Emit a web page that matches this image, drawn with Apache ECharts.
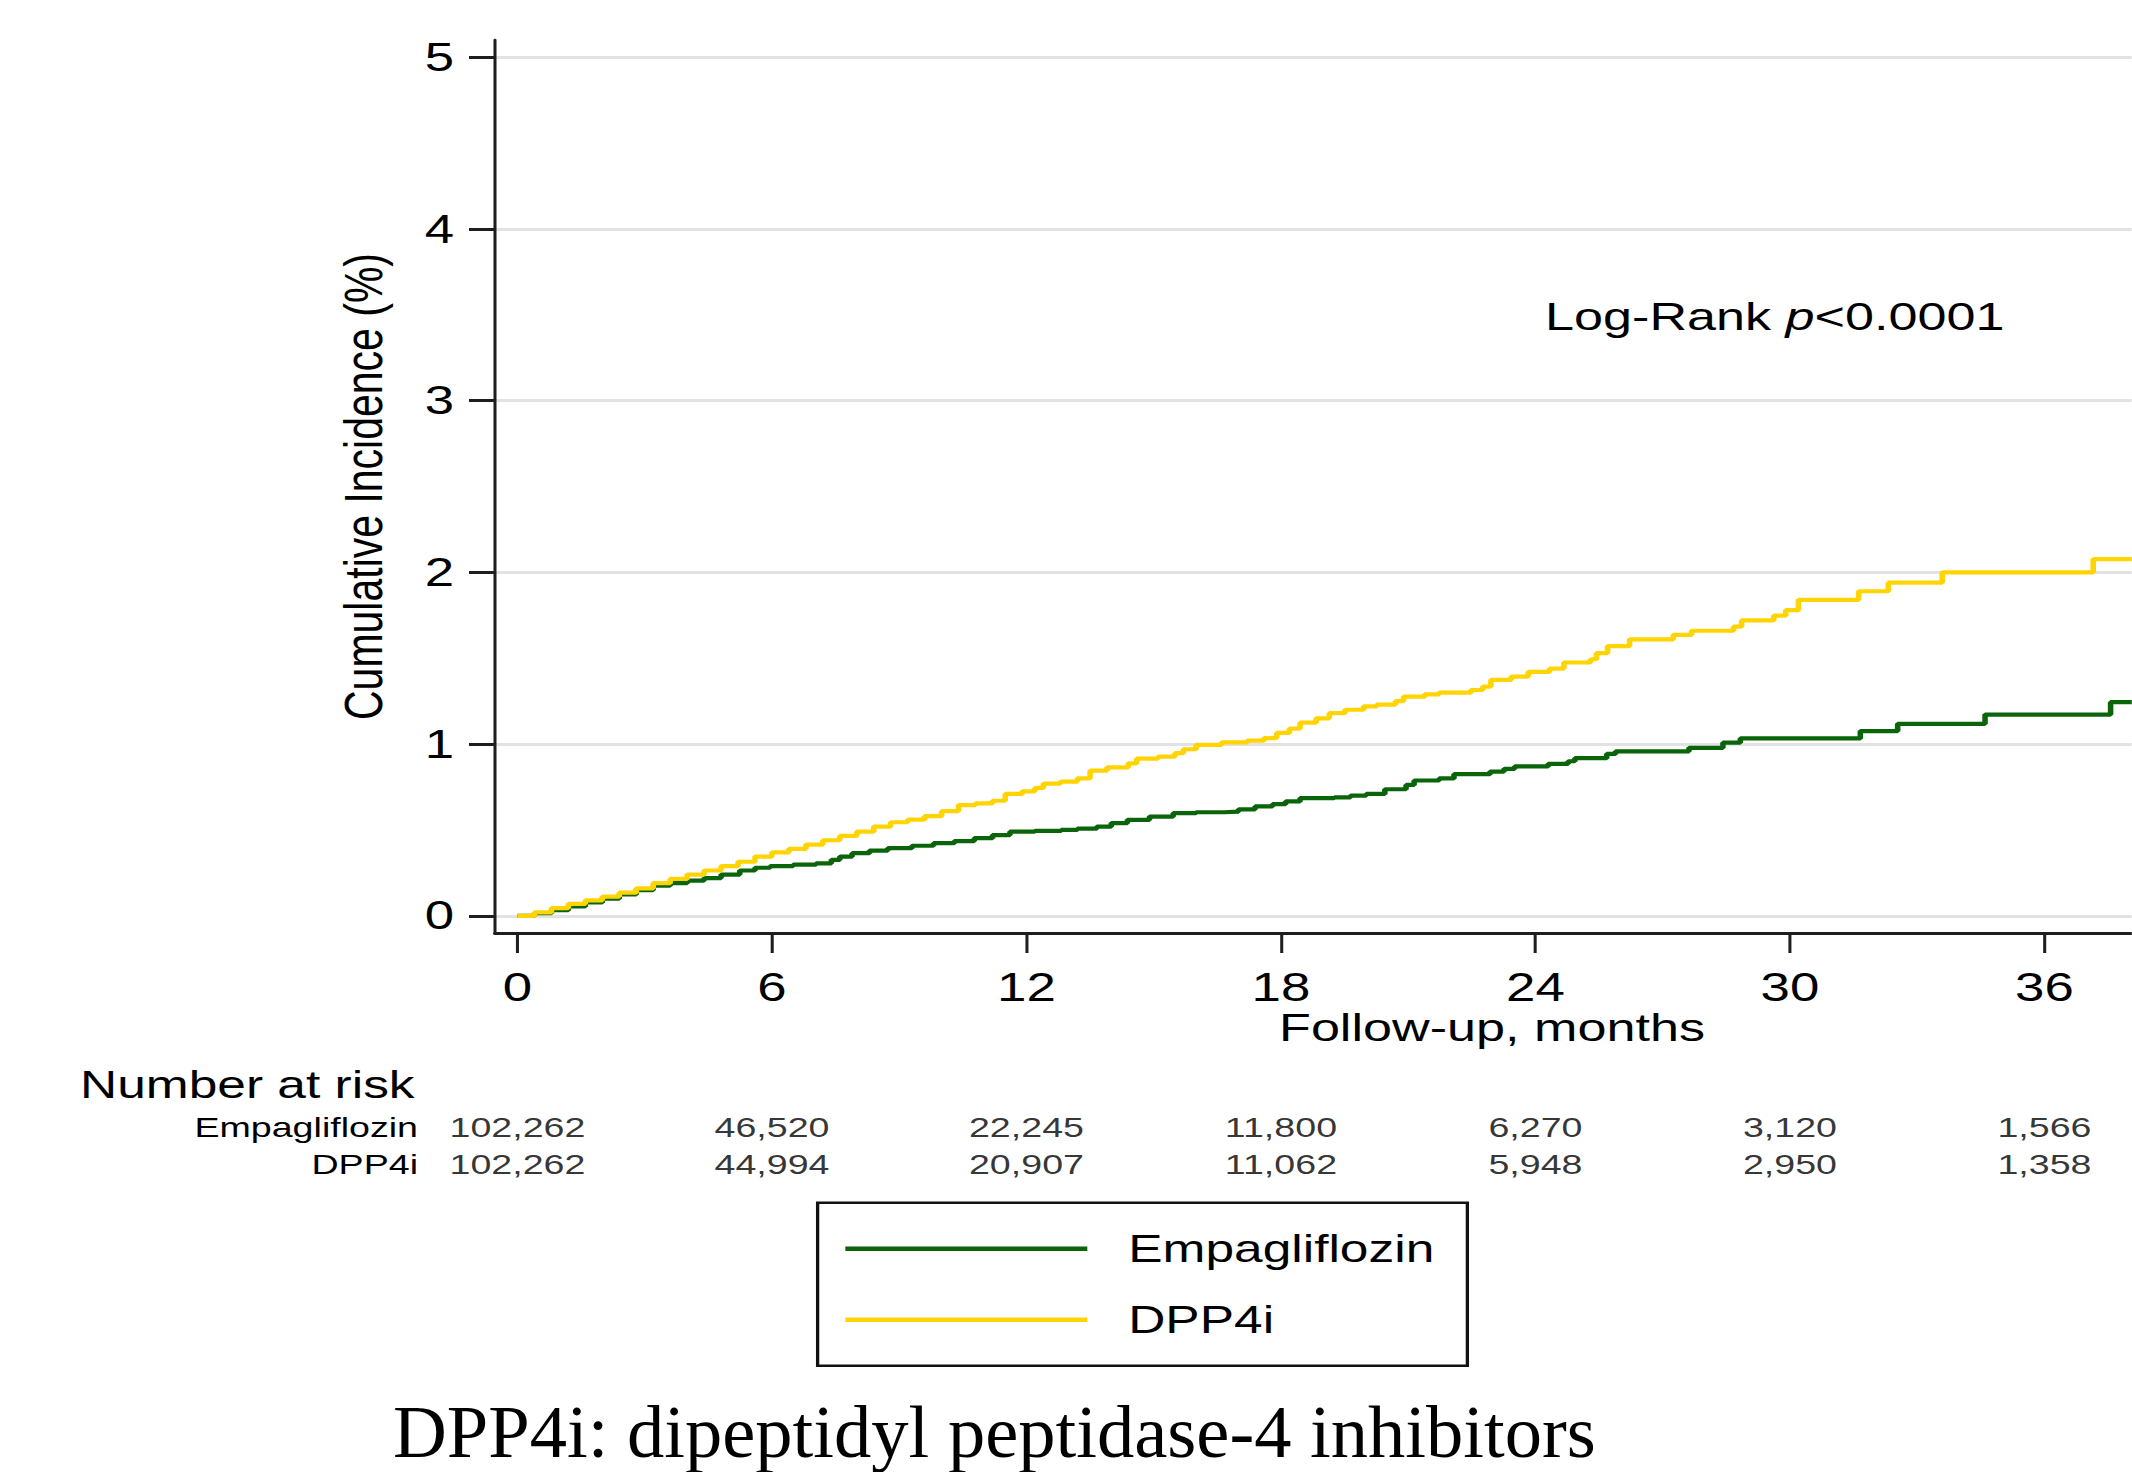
<!DOCTYPE html>
<html>
<head>
<meta charset="utf-8">
<script src="https://cdn.jsdelivr.net/npm/echarts@6/dist/echarts.min.js"></script>
<style>
  html, body { margin: 0; padding: 0; background: #fff; overflow: hidden; }
  #chart { height: 1472px; transform-origin: 0 0; }
</style>
</head>
<body>
<div id="chart"></div>
<script>
// ---------- data ----------
const seriesNames = ['Empagliflozin', 'DPP4i'];
const xTicks = [0, 6, 12, 18, 24, 30, 36];
const yTicks = [0, 1, 2, 3, 4, 5];

// cumulative incidence (%) step points: [month, value]
const empaCurve = [
  [0,0],[0.4,0.015],[0.8,0.033],[1.2,0.055],[1.6,0.078],[2.0,0.10],[2.4,0.125],[2.8,0.15],
  [3.2,0.175],[3.6,0.19],[4.0,0.205],[4.4,0.22],[4.8,0.24],[5.24,0.264],[5.6,0.28],[5.96,0.29],
  [6.5,0.298],[7.04,0.306],[7.4,0.326],[7.6,0.345],[7.89,0.365],[8.3,0.38],[8.73,0.394],
  [9.3,0.408],[9.81,0.423],[10.3,0.435],[10.77,0.452],[11.2,0.47],[11.61,0.49],[12.2,0.495],
  [12.82,0.50],[13.2,0.508],[13.66,0.52],[14.0,0.54],[14.38,0.559],[14.9,0.578],[15.46,0.598],
  [16.0,0.603],[16.67,0.607],[17.0,0.62],[17.39,0.637],[17.8,0.65],[18.11,0.666],[18.45,0.685],
  [19.26,0.69],[19.64,0.70],[20.01,0.71],[20.45,0.737],[20.95,0.762],[21.14,0.788],[21.73,0.80],
  [22.08,0.825],[22.93,0.84],[23.26,0.856],[23.51,0.87],[24.3,0.885],[24.77,0.90],[24.93,0.918],
  [25.68,0.943],[25.89,0.958],[27.62,0.978],[28.42,1.008],[28.83,1.033],[31.66,1.076],
  [32.54,1.118],[34.6,1.172],[37.56,1.244],[38.1,1.244]
];
const dppCurve = [
  [0,0],[0.4,0.02],[0.8,0.045],[1.2,0.07],[1.6,0.09],[2.0,0.112],[2.4,0.135],[2.8,0.16],
  [3.2,0.19],[3.6,0.215],[4.0,0.24],[4.4,0.264],[4.8,0.29],[5.2,0.315],[5.6,0.345],[6.0,0.37],
  [6.4,0.39],[6.8,0.415],[7.2,0.44],[7.6,0.465],[8.0,0.49],[8.4,0.52],[8.8,0.545],[9.2,0.56],
  [9.6,0.58],[10.0,0.61],[10.4,0.645],[10.8,0.655],[11.2,0.67],[11.5,0.71],[11.9,0.725],
  [12.2,0.745],[12.4,0.77],[12.8,0.782],[13.2,0.80],[13.5,0.845],[13.9,0.865],[14.4,0.888],
  [14.6,0.915],[15.1,0.927],[15.5,0.947],[15.7,0.97],[16.0,0.995],[16.6,1.01],[17.2,1.02],
  [17.6,1.035],[17.9,1.065],[18.2,1.09],[18.45,1.125],[18.83,1.15],[19.14,1.18],[19.51,1.20],
  [19.95,1.22],[20.26,1.23],[20.70,1.25],[20.89,1.276],[21.39,1.29],[21.73,1.30],[22.48,1.315],
  [22.76,1.335],[22.95,1.374],[23.43,1.393],[23.83,1.42],[24.33,1.44],[24.67,1.475],[25.3,1.494],
  [25.44,1.53],[25.7,1.57],[26.22,1.61],[27.25,1.636],[27.68,1.66],[28.67,1.684],[28.86,1.72],
  [29.62,1.748],[29.9,1.78],[30.2,1.84],[31.62,1.89],[32.32,1.94],[33.59,2.0],[37.15,2.077],
  [38.1,2.077]
];

// number at risk
const riskTimes = [0, 6, 12, 18, 24, 30, 36];
const riskEmpa = [102262, 46520, 22245, 11800, 6270, 3120, 1566];
const riskDpp  = [102262, 44994, 20907, 11062, 5948, 2950, 1358];

const yTitle = 'Cumulative Incidence (%)';
const xTitle = 'Follow-up, months';
const riskTitle = 'Number at risk';
const pText = ['Log-Rank ', 'p', '<0.0001'];
const caption = 'DPP4i: dipeptidyl peptidase-4 inhibitors';

// ---------- layout ----------
const S = 1.32;                 // horizontal stretch of the original figure
const W = 2132 / S;
const el = document.getElementById('chart');
el.style.width = W + 'px';
el.style.transform = 'scaleX(' + S + ')';

const FONT = '"Liberation Sans", Arial, Helvetica, sans-serif';
const colors = ['#0a650a', '#ffd400'];

const riskData = [];
riskTimes.forEach((t, i) => {
  riskData.push([t, seriesNames[0], riskEmpa[i]]);
  riskData.push([t, seriesNames[1], riskDpp[i]]);
});

const chart = echarts.init(el, null, { renderer: 'svg' });
chart.setOption({
  animation: false,
  backgroundColor: '#fff',
  textStyle: { fontFamily: FONT, color: '#000' },
  grid: [
    { left: 375, right: 0, top: 40, bottom: 539 },
    { left: 375, right: 0, top: 1108.5, height: 74 }
  ],
  xAxis: [
    {
      type: 'value', gridIndex: 0, min: -0.53, max: 38.06,
      axisLine: { show: true, onZero: false, lineStyle: { color: '#1e1e1e', width: 3 } },
      axisTick: { show: true, customValues: xTicks, length: 20, lineStyle: { color: '#1e1e1e', width: 2.3 } },
      axisLabel: { customValues: xTicks, fontSize: 40, margin: 34, color: '#000', fontFamily: FONT },
      splitLine: { show: false }
    },
    {
      type: 'value', gridIndex: 1, min: -0.53, max: 38.06, show: false
    }
  ],
  yAxis: [
    {
      type: 'value', gridIndex: 0, min: -0.1, max: 5.1,
      name: yTitle, nameLocation: 'middle', nameGap: 79,
      nameTextStyle: { fontSize: 41, color: '#000', fontFamily: FONT },
      axisLine: { show: true, onZero: false, lineStyle: { color: '#1e1e1e', width: 2.3 } },
      axisTick: { show: true, customValues: yTicks, length: 19.7, lineStyle: { color: '#1e1e1e', width: 3 } },
      axisLabel: { customValues: yTicks, fontSize: 40, margin: 31, color: '#000', fontFamily: FONT },
      splitLine: { show: true, lineStyle: { color: '#e2e2e2', width: 3 } }
    },
    {
      type: 'category', gridIndex: 1, inverse: true, data: seriesNames,
      axisLine: { show: false }, axisTick: { show: false }, splitLine: { show: false },
      axisLabel: { interval: 0, hideOverlap: false, fontSize: 28.5, margin: 58.3, color: '#000', fontFamily: FONT }
    }
  ],
  legend: {
    data: seriesNames,
    orient: 'vertical',
    left: 619.4, top: 1202.7,
    padding: [26, 25, 26, 21],
    borderColor: '#111', borderWidth: 2.5,
    icon: 'rect', itemWidth: 183.3, itemHeight: 4.5, itemGap: 31,
    textStyle: { fontSize: 39, lineHeight: 40, color: '#000', fontFamily: FONT, padding: [0, 0, 0, 26] }
  },
  series: [
    {
      name: seriesNames[0], type: 'line', step: 'end', xAxisIndex: 0, yAxisIndex: 0,
      data: empaCurve, showSymbol: false, symbol: 'none',
      itemStyle: { color: colors[0] }, lineStyle: { color: colors[0], width: 4.2 }
    },
    {
      name: seriesNames[1], type: 'line', step: 'end', xAxisIndex: 0, yAxisIndex: 0,
      data: dppCurve, showSymbol: false, symbol: 'none',
      itemStyle: { color: colors[1] }, lineStyle: { color: colors[1], width: 4.2 }
    },
    {
      name: 'risk', type: 'scatter', xAxisIndex: 1, yAxisIndex: 1,
      data: riskData, symbolSize: 1, itemStyle: { color: 'rgba(0,0,0,0)' },
      label: {
        show: true, position: 'inside', fontSize: 28.5, color: '#000', fontFamily: FONT,
        formatter: p => p.value[2].toLocaleString('en-US')
      },
      labelLayout: { hideOverlap: false },
      silent: true
    }
  ],
  graphic: [
    {
      type: 'text', x: 1170.5, y: 316,
      style: {
        text: '{a|' + pText[0] + '}{b|' + pText[1] + '}{a|' + pText[2] + '}',
        verticalAlign: 'middle',
        rich: {
          a: { fontSize: 39.5, fontFamily: FONT, fill: '#000' },
          b: { fontSize: 39.5, fontFamily: FONT, fontStyle: 'italic', fill: '#000' }
        }
      }
    },
    {
      type: 'text', x: 1130.3, y: 1027.5,
      style: { text: xTitle, fontSize: 39.5, fontFamily: FONT, fill: '#000', align: 'center', verticalAlign: 'middle' }
    },
    {
      type: 'text', x: 60.6, y: 1085,
      style: { text: riskTitle, fontSize: 39, fontFamily: FONT, fill: '#000', verticalAlign: 'middle' }
    },
    {
      type: 'text', x: 297.7, y: 1432, scaleX: 1 / S,
      style: { text: caption, fontSize: 74.5, fontFamily: '"Liberation Serif", "Times New Roman", serif', fill: '#000', verticalAlign: 'middle' }
    }
  ]
});
</script>
</body>
</html>
